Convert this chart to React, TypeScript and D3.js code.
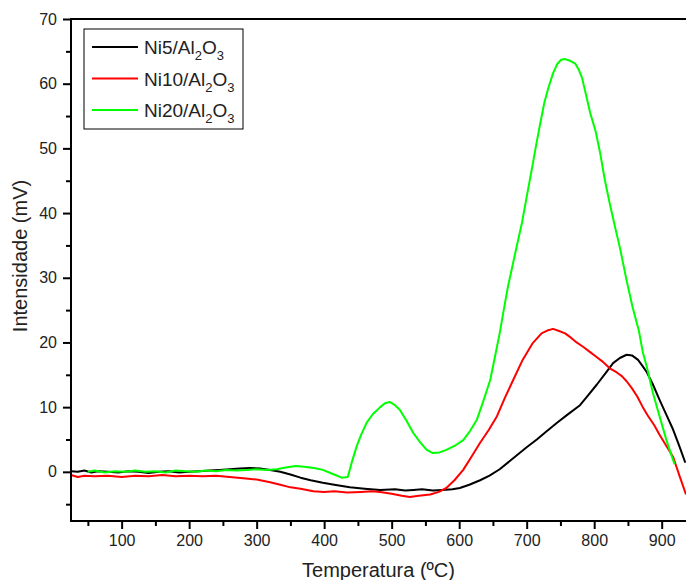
import { useEffect, useRef } from "react";
import * as d3 from "d3";

// [temperature (ºC), intensity (mV)]
const ni5: [number, number][] = [
  [25, 0.1], [35, 0.0], [45, 0.2], [55, -0.1], [65, 0.1], [80, 0.0], [95, -0.1], [110, 0.1],
  [125, 0.0], [140, -0.2], [155, 0.0], [170, 0.1], [185, -0.1], [200, 0.0], [215, 0.1],
  [230, 0.2], [245, 0.3], [260, 0.4], [275, 0.5], [290, 0.6], [305, 0.5], [320, 0.3],
  [335, 0.0], [350, -0.4], [365, -0.9], [380, -1.3], [398, -1.7], [415, -2.0], [438, -2.4],
  [460, -2.6], [483, -2.8], [505, -2.7], [520, -2.9], [532, -2.8], [545, -2.7], [561, -2.9],
  [575, -2.8], [590, -2.7], [601, -2.5], [615, -2.0], [631, -1.3], [645, -0.6], [660, 0.4],
  [680, 2.1], [700, 3.8], [715, 5.0], [730, 6.3], [745, 7.6], [760, 8.8], [779, 10.3],
  [790, 11.7], [804, 13.5], [818, 15.4], [828, 16.8], [838, 17.6], [848, 18.1], [856, 18.0],
  [865, 17.3], [872, 16.3], [878, 15.4], [887, 13.5], [897, 11.1], [907, 8.8], [917, 6.5],
  [926, 4.0], [935, 1.4],
];

const ni10: [number, number][] = [
  [25, -0.5], [35, -0.8], [45, -0.6], [60, -0.7], [80, -0.6], [100, -0.8], [120, -0.6],
  [140, -0.7], [160, -0.5], [180, -0.7], [200, -0.6], [220, -0.7], [240, -0.6], [260, -0.8],
  [280, -1.0], [300, -1.2], [320, -1.6], [335, -2.0], [350, -2.4], [365, -2.6], [384, -3.0],
  [400, -3.1], [415, -3.0], [434, -3.2], [455, -3.1], [470, -3.0], [483, -3.1], [500, -3.4],
  [515, -3.7], [527, -3.9], [540, -3.7], [557, -3.5], [570, -3.1], [581, -2.5], [593, -1.3],
  [606, 0.3], [618, 2.3], [631, 4.5], [644, 6.5], [656, 8.6], [668, 11.5], [680, 14.2],
  [694, 17.3], [709, 19.9], [722, 21.4], [732, 21.9], [739, 22.1], [747, 21.8], [757, 21.4],
  [766, 20.7], [774, 20.0], [784, 19.3], [794, 18.5], [803, 17.8], [813, 17.0], [823, 16.0],
  [833, 15.4], [841, 14.8], [848, 14.0], [856, 12.9], [864, 11.6], [872, 10.0], [880, 8.6],
  [889, 7.2], [897, 5.7], [907, 4.0], [917, 2.3], [926, -0.5], [936, -3.5],
];

const ni20: [number, number][] = [
  [50, 0.0], [60, 0.2], [75, -0.1], [90, 0.1], [105, 0.0], [120, 0.2], [135, 0.0], [150, 0.1],
  [165, -0.1], [180, 0.2], [195, 0.1], [210, 0.0], [225, 0.2], [240, 0.1], [255, 0.3],
  [270, 0.2], [285, 0.3], [300, 0.4], [315, 0.3], [330, 0.4], [345, 0.7], [358, 0.9],
  [370, 0.8], [385, 0.6], [398, 0.3], [412, -0.3], [426, -0.9], [435, -0.8], [441, 1.5],
  [448, 3.9], [455, 5.8], [463, 7.6], [472, 8.9], [483, 10.0], [490, 10.6], [497, 10.8],
  [505, 10.3], [512, 9.6], [522, 7.9], [532, 6.0], [542, 4.6], [552, 3.4], [561, 2.9],
  [571, 3.0], [581, 3.4], [593, 4.0], [606, 4.9], [616, 6.3], [626, 8.0], [636, 11.0],
  [646, 14.2], [653, 17.8], [660, 21.4], [666, 25.0], [672, 28.5], [683, 33.8], [693, 38.5],
  [700, 42.5], [708, 47.0], [714, 50.5], [720, 53.8], [726, 57.0], [732, 59.3], [739, 61.6],
  [745, 63.0], [751, 63.7], [757, 63.8], [765, 63.5], [772, 63.1], [777, 62.2], [782, 60.9],
  [789, 57.8], [794, 55.5], [802, 52.7], [809, 49.2], [816, 45.0], [823, 41.5], [831, 37.8],
  [838, 34.7], [848, 29.6], [857, 25.4], [866, 21.9], [872, 18.5], [878, 16.2], [887, 12.2],
  [897, 8.5], [907, 4.9], [913, 3.0], [919, 1.2],
];

const seriesNames = ["Ni5", "Ni10", "Ni20"];
const seriesColors = ["#000000", "#ff0000", "#00ff00"];
const xTicks = [100, 200, 300, 400, 500, 600, 700, 800, 900];
const xMinorTicks = [50, 150, 250, 350, 450, 550, 650, 750, 850];
const yTicks = [0, 10, 20, 30, 40, 50, 60, 70];
const yMinorTicks = [-5, 5, 15, 25, 35, 45, 55, 65];

const W = 686;
const H = 580;
const FONT = "'Liberation Sans', Arial, sans-serif";

const App = () => {
  const svgRef = useRef<SVGSVGElement>(null);

  useEffect(() => {
    const margin = { top: 19, right: 0, bottom: 59, left: 71 };
    const width = W - margin.left - margin.right;
    const height = H - margin.top - margin.bottom;

    const root = d3.select(svgRef.current);
    root.selectAll("*").remove();
    root.attr("width", W).attr("height", H);

    const svg = root.append("g").attr("transform", `translate(${margin.left},${margin.top})`);

    const x = d3.scaleLinear().domain([25, 936]).range([0, width]);
    const y = d3.scaleLinear().domain([-7.6, 70]).range([height, 0]);

    const line = d3
      .line<[number, number]>()
      .x(d => x(d[0]))
      .y(d => y(d[1]));

    [ni5, ni10, ni20].forEach((s, i) => {
      svg
        .append("path")
        .datum(s)
        .attr("fill", "none")
        .attr("stroke", seriesColors[i])
        .attr("stroke-width", 2)
        .attr("stroke-linejoin", "round")
        .attr("d", line);
    });

    // bottom axis
    const xAxis = svg.append("g").attr("transform", `translate(0,${height})`);
    xAxis.call(d3.axisBottom(x).tickValues(xTicks).tickSize(8).tickFormat(d => `${d}`));
    xAxis.append("g").call(d3.axisBottom(x).tickValues(xMinorTicks).tickSize(5).tickFormat(() => ""));
    xAxis.selectAll(".domain").remove();
    xAxis.selectAll("line").attr("stroke", "#000").attr("stroke-width", 2);
    xAxis
      .selectAll("text")
      .attr("font-family", FONT)
      .attr("font-size", 16)
      .attr("fill", "#222")
      .attr("y", 14);

    // left axis
    const yAxis = svg.append("g");
    yAxis.call(d3.axisLeft(y).tickValues(yTicks).tickSize(8).tickFormat(d => `${d}`));
    yAxis.append("g").call(d3.axisLeft(y).tickValues(yMinorTicks).tickSize(5).tickFormat(() => ""));
    yAxis.selectAll(".domain").remove();
    yAxis.selectAll("line").attr("stroke", "#000").attr("stroke-width", 2);
    yAxis
      .selectAll("text")
      .attr("font-family", FONT)
      .attr("font-size", 16)
      .attr("fill", "#222")
      .attr("x", -14);

    // frame lines
    svg.append("line").attr("x1", 0).attr("x2", 0).attr("y1", 0).attr("y2", height)
      .attr("stroke", "#000").attr("stroke-width", 2);
    svg.append("line").attr("x1", -1).attr("x2", width).attr("y1", height).attr("y2", height)
      .attr("stroke", "#000").attr("stroke-width", 2);
    svg.append("line").attr("x1", -1).attr("x2", width).attr("y1", 0).attr("y2", 0)
      .attr("stroke", "#000").attr("stroke-width", 2);

    // axis titles
    root
      .append("text")
      .attr("x", margin.left + width / 2)
      .attr("y", 577)
      .attr("text-anchor", "middle")
      .attr("font-family", FONT)
      .attr("font-size", 20)
      .attr("fill", "#222")
      .text("Temperatura (ºC)");

    root
      .append("text")
      .attr("transform", "translate(27,256) rotate(-90)")
      .attr("text-anchor", "middle")
      .attr("font-family", FONT)
      .attr("font-size", 20)
      .attr("fill", "#222")
      .text("Intensidade (mV)");

    // legend
    const lg = root.append("g").attr("transform", "translate(84,29)");
    lg.append("rect")
      .attr("width", 159)
      .attr("height", 100)
      .attr("fill", "#fff")
      .attr("stroke", "#000")
      .attr("stroke-width", 1);

    seriesNames.forEach((name, i) => {
      const ly = 18 + i * 31.5;
      lg.append("line")
        .attr("x1", 8).attr("x2", 54).attr("y1", ly).attr("y2", ly)
        .attr("stroke", seriesColors[i]).attr("stroke-width", 2);
      const t = lg.append("text")
        .attr("x", 60)
        .attr("y", ly + 7)
        .attr("font-family", FONT)
        .attr("font-size", 19)
        .attr("fill", "#222");
      t.append("tspan").text(`${name}/Al`);
      t.append("tspan").attr("font-size", 13).attr("dy", 6).text("2");
      t.append("tspan").attr("dy", -6).text("O");
      t.append("tspan").attr("font-size", 13).attr("dy", 6).text("3");
    });
  }, []);

  return (
    <div style={{ position: "absolute", left: 0, top: 0, background: "#fff" }}>
      <svg ref={svgRef}></svg>
    </div>
  );
};

export default App;
